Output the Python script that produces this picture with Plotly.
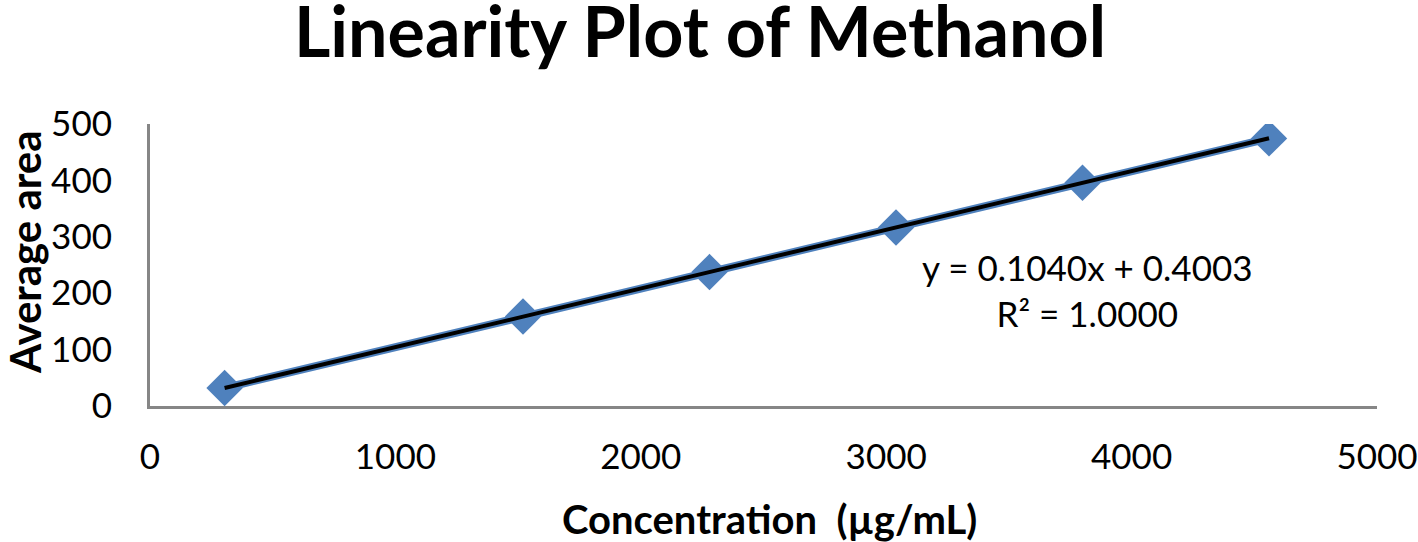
import numpy as np
import plotly.graph_objects as go

concentration = [304, 1520, 2280, 3040, 3800, 4560]
average_area = [31.9, 158.6, 237.5, 316.5, 395.8, 474.5]

x_ticks = [0, 1000, 2000, 3000, 4000, 5000]
y_ticks = [0, 100, 200, 300, 400, 500]

slope, intercept = np.polyfit(concentration, average_area, 1)
trend_x = [concentration[0], concentration[-1]]
trend_y = [slope * v + intercept for v in trend_x]

FONT = "Lato"
W, H = 1418, 542
L, R, T, B = 150, 1377, 124, 406  # plot area in window pixels


def px(xw):
    return (xw - L) / (R - L)


def py(yw):
    return (B - yw) / (B - T)


fig = go.Figure()
fig.add_trace(go.Scatter(
    x=concentration, y=average_area, mode="lines+markers",
    line=dict(color="#4F81BD", width=8),
    marker=dict(symbol="diamond", size=28, color="#4F81BD"),
    showlegend=False,
))
fig.add_trace(go.Scatter(
    x=trend_x, y=trend_y, mode="lines",
    line=dict(color="black", width=4),
    showlegend=False,
))
fig.add_annotation(
    x=px(1087), y=py(290), xref="paper", yref="paper",
    xanchor="center", yanchor="middle",
    text="y = 0.1040x + 0.4003<br>R² = 1.0000",
    showarrow=False, align="center",
    font=dict(family=FONT, size=35, color="black"),
)
fig.add_annotation(
    x=px(25), y=py(252), xref="paper", yref="paper",
    xanchor="center", yanchor="middle", textangle=-90,
    text="<b>Average area</b>", showarrow=False,
    font=dict(family=FONT, size=42, color="black"),
)
fig.add_annotation(
    x=px(769), y=py(519), xref="paper", yref="paper",
    xanchor="center", yanchor="middle",
    text="<b>Concentration&nbsp; (µg/mL)</b>", showarrow=False,
    font=dict(family=FONT, size=40, color="black"),
)
fig.update_layout(
    width=W, height=H,
    margin=dict(l=L, r=W - R, t=T, b=H - B, autoexpand=False),
    paper_bgcolor="white", plot_bgcolor="white",
    title=dict(text="<b>Linearity Plot of Methanol</b>",
               x=700 / W, xanchor="center", xref="container",
               y=1 - 32 / H, yanchor="middle", yref="container",
               font=dict(family=FONT, size=70, color="black")),
    font=dict(family=FONT, color="black"),
)
fig.update_xaxes(
    range=[0, 5000], tickvals=x_ticks, showgrid=False, zeroline=False,
    showline=True, linecolor="#868686", linewidth=3,
    ticks="", ticklabelstandoff=18, automargin=False,
    tickfont=dict(family=FONT, size=35, color="black"),
)
fig.update_yaxes(
    range=[0, 500], tickvals=y_ticks, showgrid=False, zeroline=False,
    showline=True, linecolor="#868686", linewidth=3,
    ticks="", ticklabelstandoff=28, automargin=False,
    tickfont=dict(family=FONT, size=35, color="black"),
)
fig.write_html(
    "out.html",
    config={"displayModeBar": False},
    post_script="document.body.style.margin='0px';document.body.style.overflow='hidden';",
)
